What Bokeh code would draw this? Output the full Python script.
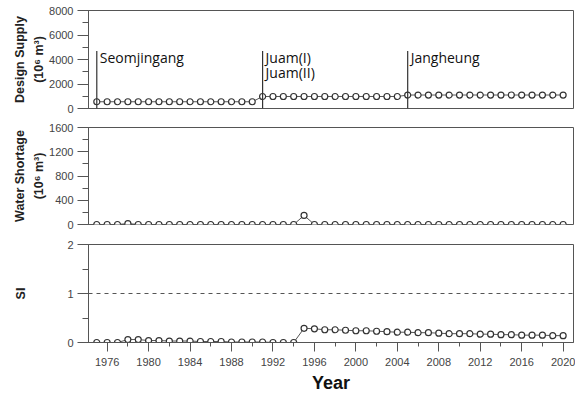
from bokeh.plotting import figure
from bokeh.layouts import column
from bokeh.models import Range1d, SingleIntervalTicker, Span, Label, ColumnDataSource
from bokeh.embed import file_html
from bokeh.resources import INLINE

years = [1975, 1976, 1977, 1978, 1979, 1980, 1981, 1982, 1983, 1984,
         1985, 1986, 1987, 1988, 1989, 1990, 1991, 1992, 1993, 1994,
         1995, 1996, 1997, 1998, 1999, 2000, 2001, 2002, 2003, 2004,
         2005, 2006, 2007, 2008, 2009, 2010, 2011, 2012, 2013, 2014,
         2015, 2016, 2017, 2018, 2019, 2020]
design_supply = [550] * 16 + [980] * 14 + [1100] * 16
water_shortage = [0, 0, 0, 15, 0, 0, 0, 0, 0, 0,
                  0, 0, 0, 0, 0, 0, 0, 0, 0, 0,
                  150, 0, 0, 0, 0, 0, 0, 0, 0, 0,
                  0, 0, 0, 0, 0, 0, 0, 0, 0, 0,
                  0, 0, 0, 0, 0, 0]
si = [0.0, 0.0, 0.0, 0.06, 0.06, 0.04, 0.04, 0.03, 0.03, 0.03,
      0.02, 0.02, 0.02, 0.01, 0.01, 0.01, 0.01, 0.0, 0.0, 0.0,
      0.29, 0.28, 0.26, 0.26, 0.25, 0.24, 0.24, 0.23, 0.22, 0.21,
      0.21, 0.20, 0.20, 0.19, 0.18, 0.18, 0.18, 0.17, 0.17, 0.16,
      0.16, 0.15, 0.15, 0.15, 0.14, 0.14]
event_years = [1975, 1991, 2005]
event_names = ["Seomjingang", "Juam(I)\nJuam(II)", "Jangheung"]
event_line_top = 4700
si_threshold = 1

src = ColumnDataSource(dict(year=years, supply=design_supply, shortage=water_shortage, si=si))

TICK_FONT = "Liberation Sans"
FW = 485
LEFT = 88


def make_fig(frame_h, top, bottom, y_end, interval, label, show_x, label_standoff=0):
    p = figure(frame_width=FW, frame_height=frame_h, output_backend="svg", toolbar_location=None,
               x_range=Range1d(1974.2, 2021.0), y_range=Range1d(0, y_end),
               min_border_left=LEFT, min_border_right=2, min_border_top=top,
               min_border_bottom=bottom)
    p.xgrid.visible = False
    p.ygrid.visible = False
    p.outline_line_color = "#555555"
    p.outline_line_width = 1
    yax = p.yaxis[0]
    yax.ticker = SingleIntervalTicker(interval=interval, num_minor_ticks=2)
    yax.axis_label = label
    yax.axis_label_text_font = TICK_FONT
    yax.axis_label_text_font_style = "bold"
    yax.axis_label_text_font_size = "12.5px"
    yax.axis_label_text_color = "#222222"
    yax.axis_label_text_line_height = 1.35
    yax.axis_label_standoff = label_standoff
    yax.major_label_text_font = TICK_FONT
    yax.major_label_text_font_size = "11px"
    yax.major_label_text_color = "#444444"
    yax.major_label_standoff = 4
    yax.major_tick_out = 11
    yax.major_tick_in = 0
    yax.minor_tick_out = 6
    yax.minor_tick_in = 0
    yax.axis_line_color = "#555555"
    yax.major_tick_line_color = "#555555"
    yax.minor_tick_line_color = "#555555"
    xax = p.xaxis[0]
    if show_x:
        xax.ticker = SingleIntervalTicker(interval=4, num_minor_ticks=2)
        xax.axis_label = "Year"
        xax.axis_label_text_font = TICK_FONT
        xax.axis_label_text_font_style = "bold"
        xax.axis_label_text_font_size = "18px"
        xax.axis_label_text_color = "#111111"
        xax.axis_label_standoff = 4
        xax.major_label_text_font = TICK_FONT
        xax.major_label_text_font_size = "11px"
        xax.major_label_text_color = "#444444"
        xax.major_label_standoff = 6
        xax.major_tick_out = 9
        xax.major_tick_in = 0
        xax.minor_tick_out = 4
        xax.minor_tick_in = 0
        xax.axis_line_color = "#555555"
        xax.major_tick_line_color = "#555555"
        xax.minor_tick_line_color = "#555555"
    else:
        xax.visible = False
    return p


p1 = make_fig(98, 10, 10, 8000, 2000, "Design Supply\n(10\u2076 m\u00b3)", False)
p2 = make_fig(97, 9, 10, 1600, 400, "Water Shortage\n(10\u2076 m\u00b3)", False)
p3 = make_fig(98, 10, 50, 2, 1, "SI", True, label_standoff=36)

for p, col in [(p1, "supply"), (p2, "shortage"), (p3, "si")]:
    p.line("year", col, source=src, line_color="#555555", line_width=1)
    p.scatter("year", col, source=src, size=6, line_color="#333333",
              fill_color="white", line_width=1.2)

p1.segment(x0=event_years, y0=[0] * 3, x1=event_years, y1=[event_line_top] * 3,
           line_color="#333333", line_width=1.2)
for yr, name in zip(event_years, event_names):
    p1.add_layout(Label(x=yr, y=event_line_top, text=name, x_offset=3, y_offset=3,
                        text_baseline="top", text_font="Open Sans",
                        text_font_size="14px", text_color="#111111",
                        text_line_height=0.8))

p3.add_layout(Span(location=si_threshold, dimension="width", line_color="#555555",
                   line_dash="4 4", line_width=1))

layout = column(p1, p2, p3, spacing=0)
open("out.html", "w").write(file_html(layout, INLINE))
